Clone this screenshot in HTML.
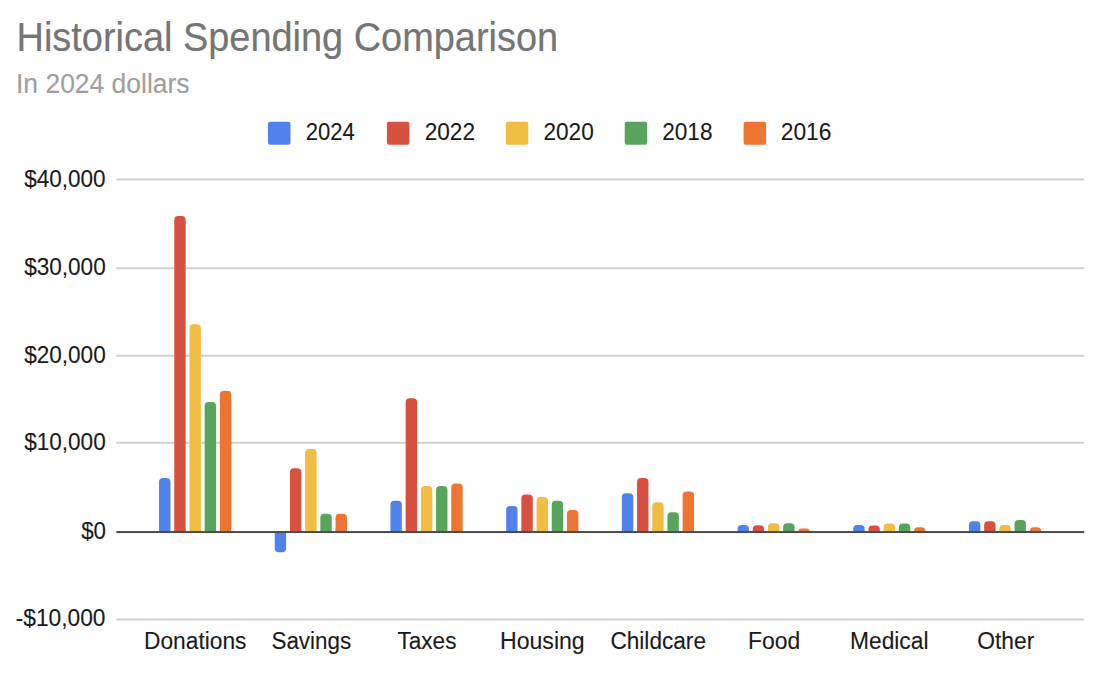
<!DOCTYPE html>
<html><head><meta charset="utf-8">
<style>
html,body{margin:0;padding:0;background:#fff;}
body{width:1100px;height:674px;overflow:hidden;position:relative;}
svg{position:absolute;left:0;top:0;}
text{font-family:"Liberation Sans",sans-serif;white-space:pre;}
</style></head><body>
<svg width="1100" height="674" viewBox="0 0 1100 674">
<rect x="116.4" y="178.40" width="967.8" height="2" fill="#d0d0d0"/>
<rect x="116.4" y="267.20" width="967.8" height="2" fill="#d0d0d0"/>
<rect x="116.4" y="354.80" width="967.8" height="2" fill="#d0d0d0"/>
<rect x="116.4" y="441.80" width="967.8" height="2" fill="#d0d0d0"/>
<rect x="116.4" y="618.50" width="967.8" height="2" fill="#d0d0d0"/>
<path d="M159.05,532.00L159.05,481.90A4.00,4.00 0 0 1 163.05,477.90L166.45,477.90A4.00,4.00 0 0 1 170.45,481.90L170.45,532.00Z" fill="#4f82ea"/>
<path d="M174.25,532.00L174.25,220.10A4.00,4.00 0 0 1 178.25,216.10L181.65,216.10A4.00,4.00 0 0 1 185.65,220.10L185.65,532.00Z" fill="#d8503f"/>
<path d="M189.45,532.00L189.45,328.20A4.00,4.00 0 0 1 193.45,324.20L196.85,324.20A4.00,4.00 0 0 1 200.85,328.20L200.85,532.00Z" fill="#f1bc42"/>
<path d="M204.65,532.00L204.65,406.10A4.00,4.00 0 0 1 208.65,402.10L212.05,402.10A4.00,4.00 0 0 1 216.05,406.10L216.05,532.00Z" fill="#59a45c"/>
<path d="M219.85,532.00L219.85,394.70A4.00,4.00 0 0 1 223.85,390.70L227.25,390.70A4.00,4.00 0 0 1 231.25,394.70L231.25,532.00Z" fill="#ee7431"/>
<path d="M274.75,532.00L274.75,548.20A4.00,4.00 0 0 0 278.75,552.20L282.15,552.20A4.00,4.00 0 0 0 286.15,548.20L286.15,532.00Z" fill="#4f82ea"/>
<path d="M289.95,532.00L289.95,472.30A4.00,4.00 0 0 1 293.95,468.30L297.35,468.30A4.00,4.00 0 0 1 301.35,472.30L301.35,532.00Z" fill="#d8503f"/>
<path d="M305.15,532.00L305.15,453.00A4.00,4.00 0 0 1 309.15,449.00L312.55,449.00A4.00,4.00 0 0 1 316.55,453.00L316.55,532.00Z" fill="#f1bc42"/>
<path d="M320.35,532.00L320.35,517.70A4.00,4.00 0 0 1 324.35,513.70L327.75,513.70A4.00,4.00 0 0 1 331.75,517.70L331.75,532.00Z" fill="#59a45c"/>
<path d="M335.55,532.00L335.55,517.70A4.00,4.00 0 0 1 339.55,513.70L342.95,513.70A4.00,4.00 0 0 1 346.95,517.70L346.95,532.00Z" fill="#ee7431"/>
<path d="M390.45,532.00L390.45,504.80A4.00,4.00 0 0 1 394.45,500.80L397.85,500.80A4.00,4.00 0 0 1 401.85,504.80L401.85,532.00Z" fill="#4f82ea"/>
<path d="M405.65,532.00L405.65,402.30A4.00,4.00 0 0 1 409.65,398.30L413.05,398.30A4.00,4.00 0 0 1 417.05,402.30L417.05,532.00Z" fill="#d8503f"/>
<path d="M420.85,532.00L420.85,489.90A4.00,4.00 0 0 1 424.85,485.90L428.25,485.90A4.00,4.00 0 0 1 432.25,489.90L432.25,532.00Z" fill="#f1bc42"/>
<path d="M436.05,532.00L436.05,489.90A4.00,4.00 0 0 1 440.05,485.90L443.45,485.90A4.00,4.00 0 0 1 447.45,489.90L447.45,532.00Z" fill="#59a45c"/>
<path d="M451.25,532.00L451.25,487.60A4.00,4.00 0 0 1 455.25,483.60L458.65,483.60A4.00,4.00 0 0 1 462.65,487.60L462.65,532.00Z" fill="#ee7431"/>
<path d="M506.15,532.00L506.15,510.00A4.00,4.00 0 0 1 510.15,506.00L513.55,506.00A4.00,4.00 0 0 1 517.55,510.00L517.55,532.00Z" fill="#4f82ea"/>
<path d="M521.35,532.00L521.35,498.60A4.00,4.00 0 0 1 525.35,494.60L528.75,494.60A4.00,4.00 0 0 1 532.75,498.60L532.75,532.00Z" fill="#d8503f"/>
<path d="M536.55,532.00L536.55,500.90A4.00,4.00 0 0 1 540.55,496.90L543.95,496.90A4.00,4.00 0 0 1 547.95,500.90L547.95,532.00Z" fill="#f1bc42"/>
<path d="M551.75,532.00L551.75,504.80A4.00,4.00 0 0 1 555.75,500.80L559.15,500.80A4.00,4.00 0 0 1 563.15,504.80L563.15,532.00Z" fill="#59a45c"/>
<path d="M566.95,532.00L566.95,513.90A4.00,4.00 0 0 1 570.95,509.90L574.35,509.90A4.00,4.00 0 0 1 578.35,513.90L578.35,532.00Z" fill="#ee7431"/>
<path d="M621.85,532.00L621.85,497.15A4.00,4.00 0 0 1 625.85,493.15L629.25,493.15A4.00,4.00 0 0 1 633.25,497.15L633.25,532.00Z" fill="#4f82ea"/>
<path d="M637.05,532.00L637.05,482.10A4.00,4.00 0 0 1 641.05,478.10L644.45,478.10A4.00,4.00 0 0 1 648.45,482.10L648.45,532.00Z" fill="#d8503f"/>
<path d="M652.25,532.00L652.25,506.30A4.00,4.00 0 0 1 656.25,502.30L659.65,502.30A4.00,4.00 0 0 1 663.65,506.30L663.65,532.00Z" fill="#f1bc42"/>
<path d="M667.45,532.00L667.45,516.15A4.00,4.00 0 0 1 671.45,512.15L674.85,512.15A4.00,4.00 0 0 1 678.85,516.15L678.85,532.00Z" fill="#59a45c"/>
<path d="M682.65,532.00L682.65,495.40A4.00,4.00 0 0 1 686.65,491.40L690.05,491.40A4.00,4.00 0 0 1 694.05,495.40L694.05,532.00Z" fill="#ee7431"/>
<path d="M737.55,532.00L737.55,529.10A4.00,4.00 0 0 1 741.55,525.10L744.95,525.10A4.00,4.00 0 0 1 748.95,529.10L748.95,532.00Z" fill="#4f82ea"/>
<path d="M752.75,532.00L752.75,529.30A4.00,4.00 0 0 1 756.75,525.30L760.15,525.30A4.00,4.00 0 0 1 764.15,529.30L764.15,532.00Z" fill="#d8503f"/>
<path d="M767.95,532.00L767.95,527.30A4.00,4.00 0 0 1 771.95,523.30L775.35,523.30A4.00,4.00 0 0 1 779.35,527.30L779.35,532.00Z" fill="#f1bc42"/>
<path d="M783.15,532.00L783.15,527.30A4.00,4.00 0 0 1 787.15,523.30L790.55,523.30A4.00,4.00 0 0 1 794.55,527.30L794.55,532.00Z" fill="#59a45c"/>
<path d="M798.35,532.00L798.35,532.00A3.40,3.40 0 0 1 801.75,528.60L806.35,528.60A3.40,3.40 0 0 1 809.75,532.00L809.75,532.00Z" fill="#ee7431"/>
<path d="M853.25,532.00L853.25,528.90A4.00,4.00 0 0 1 857.25,524.90L860.65,524.90A4.00,4.00 0 0 1 864.65,528.90L864.65,532.00Z" fill="#4f82ea"/>
<path d="M868.45,532.00L868.45,529.60A4.00,4.00 0 0 1 872.45,525.60L875.85,525.60A4.00,4.00 0 0 1 879.85,529.60L879.85,532.00Z" fill="#d8503f"/>
<path d="M883.65,532.00L883.65,527.60A4.00,4.00 0 0 1 887.65,523.60L891.05,523.60A4.00,4.00 0 0 1 895.05,527.60L895.05,532.00Z" fill="#f1bc42"/>
<path d="M898.85,532.00L898.85,527.60A4.00,4.00 0 0 1 902.85,523.60L906.25,523.60A4.00,4.00 0 0 1 910.25,527.60L910.25,532.00Z" fill="#59a45c"/>
<path d="M914.05,532.00L914.05,531.20A4.00,4.00 0 0 1 918.05,527.20L921.45,527.20A4.00,4.00 0 0 1 925.45,531.20L925.45,532.00Z" fill="#ee7431"/>
<path d="M968.95,532.00L968.95,525.30A4.00,4.00 0 0 1 972.95,521.30L976.35,521.30A4.00,4.00 0 0 1 980.35,525.30L980.35,532.00Z" fill="#4f82ea"/>
<path d="M984.15,532.00L984.15,525.30A4.00,4.00 0 0 1 988.15,521.30L991.55,521.30A4.00,4.00 0 0 1 995.55,525.30L995.55,532.00Z" fill="#d8503f"/>
<path d="M999.35,532.00L999.35,529.10A4.00,4.00 0 0 1 1003.35,525.10L1006.75,525.10A4.00,4.00 0 0 1 1010.75,529.10L1010.75,532.00Z" fill="#f1bc42"/>
<path d="M1014.55,532.00L1014.55,523.90A4.00,4.00 0 0 1 1018.55,519.90L1021.95,519.90A4.00,4.00 0 0 1 1025.95,523.90L1025.95,532.00Z" fill="#59a45c"/>
<path d="M1029.75,532.00L1029.75,531.20A4.00,4.00 0 0 1 1033.75,527.20L1037.15,527.20A4.00,4.00 0 0 1 1041.15,531.20L1041.15,532.00Z" fill="#ee7431"/>
<rect x="116.4" y="531.05" width="967.8" height="2" fill="#4a4a4a"/>
<rect x="268.00" y="121.7" width="22.5" height="23" rx="2" fill="#4f82ea"/>
<rect x="386.90" y="121.7" width="22.5" height="23" rx="2" fill="#d8503f"/>
<rect x="505.80" y="121.7" width="22.5" height="23" rx="2" fill="#f1bc42"/>
<rect x="624.70" y="121.7" width="22.5" height="23" rx="2" fill="#59a45c"/>
<rect x="743.60" y="121.7" width="22.5" height="23" rx="2" fill="#ee7431"/>
<text x="16.56" y="50.50" font-size="41.00" textLength="541.58" lengthAdjust="spacingAndGlyphs" fill="#757575" stroke="#757575" stroke-width="0.2">Historical Spending Comparison</text>
<text x="16.02" y="93.00" font-size="27.00" textLength="173.52" lengthAdjust="spacingAndGlyphs" fill="#9e9e9e" stroke="#9e9e9e" stroke-width="0.1">In 2024 dollars</text>
<text x="305.68" y="140.00" font-size="23.20" textLength="49.12" lengthAdjust="spacingAndGlyphs" fill="#1a1a1a" stroke="#1a1a1a" stroke-width="0.1">2024</text>
<text x="424.68" y="140.00" font-size="23.20" textLength="50.32" lengthAdjust="spacingAndGlyphs" fill="#1a1a1a" stroke="#1a1a1a" stroke-width="0.1">2022</text>
<text x="543.44" y="140.00" font-size="23.20" textLength="50.32" lengthAdjust="spacingAndGlyphs" fill="#1a1a1a" stroke="#1a1a1a" stroke-width="0.1">2020</text>
<text x="662.20" y="140.00" font-size="23.20" textLength="50.32" lengthAdjust="spacingAndGlyphs" fill="#1a1a1a" stroke="#1a1a1a" stroke-width="0.1">2018</text>
<text x="780.70" y="140.00" font-size="23.20" textLength="50.80" lengthAdjust="spacingAndGlyphs" fill="#1a1a1a" stroke="#1a1a1a" stroke-width="0.1">2016</text>
<text x="24.14" y="186.76" font-size="23.90" textLength="81.36" lengthAdjust="spacingAndGlyphs" fill="#1a1a1a" stroke="#1a1a1a" stroke-width="0.1">$40,000</text>
<text x="24.14" y="274.74" font-size="23.90" textLength="81.60" lengthAdjust="spacingAndGlyphs" fill="#1a1a1a" stroke="#1a1a1a" stroke-width="0.1">$30,000</text>
<text x="24.14" y="362.52" font-size="23.90" textLength="81.60" lengthAdjust="spacingAndGlyphs" fill="#1a1a1a" stroke="#1a1a1a" stroke-width="0.1">$20,000</text>
<text x="24.14" y="450.00" font-size="23.90" textLength="81.60" lengthAdjust="spacingAndGlyphs" fill="#1a1a1a" stroke="#1a1a1a" stroke-width="0.1">$10,000</text>
<text x="81.14" y="538.76" font-size="23.90" textLength="24.86" lengthAdjust="spacingAndGlyphs" fill="#1a1a1a" stroke="#1a1a1a" stroke-width="0.1">$0</text>
<text x="15.68" y="625.76" font-size="23.90" textLength="89.82" lengthAdjust="spacingAndGlyphs" fill="#1a1a1a" stroke="#1a1a1a" stroke-width="0.1">-$10,000</text>
<text x="144.00" y="648.50" font-size="23.00" textLength="102.50" lengthAdjust="spacingAndGlyphs" fill="#1a1a1a" stroke="#1a1a1a" stroke-width="0.1">Donations</text>
<text x="271.42" y="648.50" font-size="23.00" textLength="79.86" lengthAdjust="spacingAndGlyphs" fill="#1a1a1a" stroke="#1a1a1a" stroke-width="0.1">Savings</text>
<text x="397.40" y="648.50" font-size="23.00" textLength="59.10" lengthAdjust="spacingAndGlyphs" fill="#1a1a1a" stroke="#1a1a1a" stroke-width="0.1">Taxes</text>
<text x="500.02" y="648.50" font-size="23.00" textLength="84.68" lengthAdjust="spacingAndGlyphs" fill="#1a1a1a" stroke="#1a1a1a" stroke-width="0.1">Housing</text>
<text x="610.42" y="648.50" font-size="23.00" textLength="95.58" lengthAdjust="spacingAndGlyphs" fill="#1a1a1a" stroke="#1a1a1a" stroke-width="0.1">Childcare</text>
<text x="747.98" y="648.50" font-size="23.00" textLength="52.22" lengthAdjust="spacingAndGlyphs" fill="#1a1a1a" stroke="#1a1a1a" stroke-width="0.1">Food</text>
<text x="850.02" y="648.50" font-size="23.00" textLength="78.48" lengthAdjust="spacingAndGlyphs" fill="#1a1a1a" stroke="#1a1a1a" stroke-width="0.1">Medical</text>
<text x="977.20" y="648.50" font-size="23.00" textLength="57.08" lengthAdjust="spacingAndGlyphs" fill="#1a1a1a" stroke="#1a1a1a" stroke-width="0.1">Other</text>
</svg>
</body></html>
